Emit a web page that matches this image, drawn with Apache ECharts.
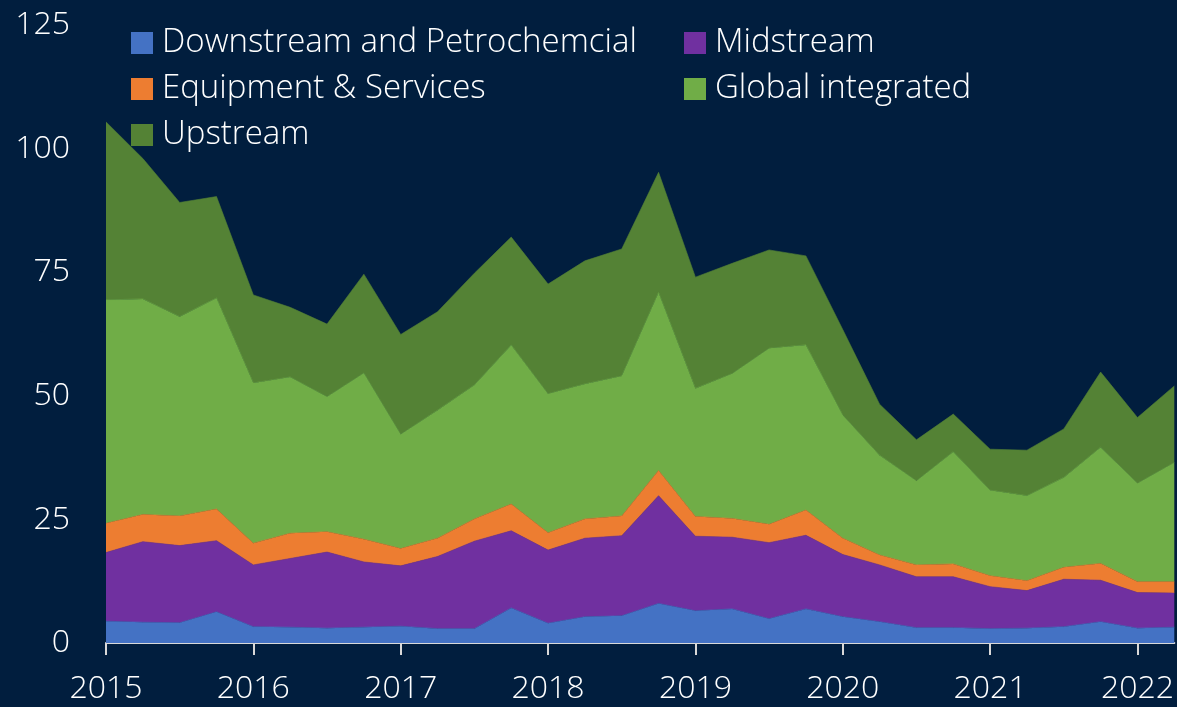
<!DOCTYPE html>
<html>
<head>
<meta charset="utf-8">
<script src="https://cdn.jsdelivr.net/npm/echarts@6/dist/echarts.min.js"></script>
<style>
	html, body { margin: 0; padding: 0; background: #011e3e; }
	#chart { width: 1177px; height: 707px; }
</style>
</head>
<body>
<div id="chart"></div>
<script>
// quarters 2015 Q1 .. 2022 Q2
var quarters = ['2015Q1', '2015Q2', '2015Q3', '2015Q4', '2016Q1', '2016Q2', '2016Q3', '2016Q4',
	'2017Q1', '2017Q2', '2017Q3', '2017Q4', '2018Q1', '2018Q2', '2018Q3', '2018Q4',
	'2019Q1', '2019Q2', '2019Q3', '2019Q4', '2020Q1', '2020Q2', '2020Q3', '2020Q4',
	'2021Q1', '2021Q2', '2021Q3', '2021Q4', '2022Q1', '2022Q2'];

var downstream = [4.4, 4.2, 4.1, 6.3, 3.3, 3.2, 3.0, 3.2, 3.4, 2.9, 2.9, 7.1, 4.0, 5.3, 5.5, 8.0,
	6.5, 6.9, 4.9, 6.9, 5.3, 4.3, 3.1, 3.1, 2.9, 3.0, 3.3, 4.3, 3.0, 3.2];
var midstream = [13.9, 16.3, 15.6, 14.4, 12.5, 13.9, 15.4, 13.2, 12.2, 14.6, 17.7, 15.6, 14.8, 15.9, 16.2, 21.8,
	15.1, 14.5, 15.4, 14.9, 12.6, 11.5, 10.3, 10.3, 8.5, 7.6, 9.6, 8.4, 7.2, 6.9];
var equipment = [5.9, 5.5, 6.0, 6.4, 4.4, 5.1, 4.1, 4.6, 3.5, 3.7, 4.5, 5.4, 3.5, 3.9, 4.0, 5.1,
	4.0, 3.8, 3.7, 5.1, 3.3, 2.0, 2.4, 2.6, 2.2, 2.0, 2.4, 3.4, 2.2, 2.3];
var globalInt = [45.2, 43.6, 40.3, 42.7, 32.4, 31.6, 27.3, 33.6, 23.1, 25.9, 27.1, 32.2, 28.1, 27.3, 28.3, 36.0,
	25.9, 29.3, 35.6, 33.4, 24.9, 20.2, 17.0, 22.7, 17.3, 17.2, 18.2, 23.5, 19.9, 24.1];
var upstream = [36.0, 28.4, 23.1, 20.5, 17.8, 14.1, 14.7, 20.0, 20.2, 19.9, 22.6, 21.8, 22.2, 24.9, 25.7, 24.3,
	22.5, 22.3, 19.9, 18.0, 17.3, 10.3, 8.3, 7.6, 8.3, 9.2, 9.8, 15.2, 13.3, 15.5];

var names = ['Downstream and Petrochemcial', 'Midstream', 'Equipment & Services', 'Global integrated', 'Upstream'];
var colors = ['#4472c4', '#7030a0', '#ed7d31', '#70ad47', '#548235'];
var values = [downstream, midstream, equipment, globalInt, upstream];

var fontName = '"Open Sans", "Noto Sans", sans-serif';

var series = [];
for (var i = 0; i < names.length; i++) {
	series.push({
		name: names[i],
		type: 'line',
		stack: 'total',
		symbol: 'none',
		data: values[i],
		lineStyle: { width: 0.6, color: colors[i] },
		areaStyle: { color: colors[i], opacity: 1 },
		itemStyle: { color: colors[i] }
	});
}

var legendText = {
	color: '#ffffff',
	fontSize: 33,
	fontWeight: 300,
	fontFamily: fontName,
	lineHeight: 36,
	padding: [0, 0, 0, 4]
};

var chart = echarts.init(document.getElementById('chart'));
chart.setOption({
	backgroundColor: '#011e3e',
	animation: false,
	legend: [{
		orient: 'vertical',
		left: 126,
		top: 20,
		itemWidth: 22,
		itemHeight: 22,
		itemGap: 10,
		icon: 'rect',
		data: [names[0], names[2], names[4]],
		textStyle: legendText
	}, {
		orient: 'vertical',
		left: 679,
		top: 20,
		itemWidth: 22,
		itemHeight: 22,
		itemGap: 10,
		icon: 'rect',
		data: [names[1], names[3]],
		textStyle: legendText
	}],
	grid: {
		left: 106,
		right: 0,
		top: 25,
		bottom: 64
	},
	xAxis: {
		type: 'category',
		boundaryGap: false,
		data: quarters,
		axisLine: { lineStyle: { color: '#d9d9d9', width: 2 } },
		axisTick: { interval: 3, length: 12, lineStyle: { color: '#d9d9d9', width: 2 } },
		axisLabel: {
			interval: 3,
			margin: 30,
			color: '#ffffff',
			fontSize: 32,
			fontWeight: 300,
			fontFamily: fontName,
			formatter: function(v) { return v.slice(0, 4); }
		},
		splitLine: { show: false }
	},
	yAxis: {
		type: 'value',
		min: 0,
		max: 125,
		interval: 25,
		axisLine: { show: false },
		axisTick: { show: false },
		splitLine: { show: false },
		axisLabel: {
			margin: 36,
			color: '#ffffff',
			fontSize: 32,
			fontWeight: 300,
			fontFamily: fontName
		}
	},
	series: series
});
</script>
</body>
</html>
